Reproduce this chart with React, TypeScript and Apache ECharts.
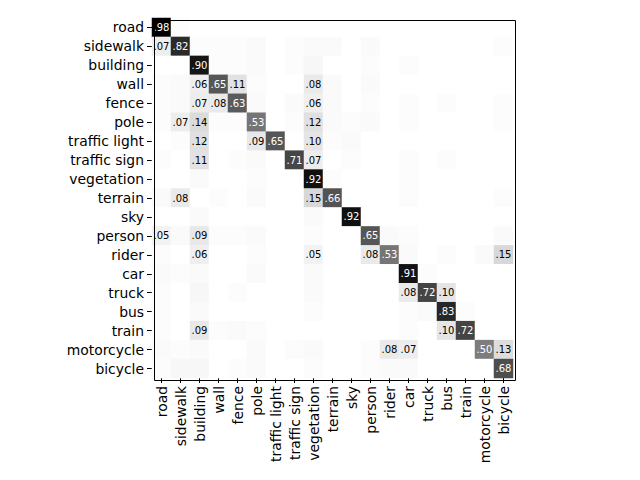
import React, { useEffect, useRef } from "react";
import * as echarts from "echarts";

const categories = [
  "road", "sidewalk", "building", "wall", "fence", "pole", "traffic light",
  "traffic sign", "vegetation", "terrain", "sky", "person", "rider", "car",
  "truck", "bus", "train", "motorcycle", "bicycle",
];

// rows = true class, columns = predicted class
const matrix: number[][] = [
  [0.98, 0.01, 0, 0, 0, 0, 0, 0, 0, 0, 0, 0, 0, 0, 0, 0, 0, 0, 0],
  [0.07, 0.82, 0.01, 0.01, 0.01, 0.02, 0, 0.01, 0.02, 0.02, 0, 0.02, 0, 0, 0, 0, 0, 0, 0.01],
  [0, 0, 0.90, 0.01, 0.01, 0.02, 0, 0.01, 0.03, 0, 0, 0.01, 0, 0.01, 0, 0, 0, 0, 0],
  [0.01, 0.02, 0.06, 0.65, 0.11, 0.01, 0, 0, 0.08, 0.02, 0, 0.02, 0, 0, 0, 0, 0, 0, 0],
  [0.01, 0.02, 0.07, 0.08, 0.63, 0.02, 0, 0.02, 0.06, 0.02, 0, 0.01, 0, 0.01, 0, 0.01, 0, 0, 0.01],
  [0.01, 0.07, 0.14, 0.01, 0.01, 0.53, 0, 0.01, 0.12, 0.02, 0.01, 0.02, 0, 0.01, 0, 0, 0, 0, 0.01],
  [0, 0.01, 0.12, 0, 0, 0.09, 0.65, 0, 0.10, 0.01, 0.02, 0, 0, 0, 0, 0, 0, 0, 0],
  [0.01, 0, 0.11, 0, 0.01, 0.02, 0, 0.71, 0.07, 0, 0.01, 0, 0, 0.01, 0, 0.01, 0, 0, 0],
  [0, 0, 0.02, 0, 0, 0.01, 0, 0, 0.92, 0.01, 0, 0, 0, 0.01, 0, 0, 0, 0, 0],
  [0.02, 0.08, 0, 0.01, 0, 0.02, 0, 0, 0.15, 0.66, 0, 0, 0, 0.01, 0, 0, 0, 0, 0.01],
  [0, 0, 0.02, 0, 0, 0, 0, 0, 0.02, 0, 0.92, 0, 0, 0, 0, 0, 0, 0, 0],
  [0.05, 0.02, 0.09, 0.01, 0.01, 0.02, 0, 0, 0.01, 0, 0, 0.65, 0.02, 0.01, 0, 0, 0, 0, 0.02],
  [0.01, 0, 0.06, 0, 0, 0.01, 0, 0, 0.05, 0, 0, 0.08, 0.53, 0.02, 0, 0.01, 0, 0.02, 0.15],
  [0.02, 0.01, 0.02, 0, 0, 0.02, 0, 0, 0.02, 0, 0, 0, 0, 0.91, 0.01, 0, 0, 0, 0],
  [0.01, 0, 0.03, 0, 0.01, 0, 0, 0, 0.02, 0, 0, 0, 0, 0.08, 0.72, 0.10, 0, 0, 0],
  [0.01, 0, 0.02, 0, 0, 0, 0, 0, 0.01, 0, 0, 0, 0, 0.01, 0.02, 0.83, 0.01, 0, 0],
  [0.01, 0, 0.09, 0.01, 0.02, 0.01, 0, 0, 0, 0, 0, 0, 0, 0.01, 0, 0.10, 0.72, 0, 0],
  [0.02, 0.01, 0.02, 0, 0, 0.02, 0, 0.01, 0.02, 0, 0, 0.01, 0.08, 0.07, 0, 0, 0, 0.50, 0.13],
  [0.01, 0.03, 0.03, 0, 0.01, 0.02, 0, 0, 0.01, 0, 0, 0.01, 0.02, 0.02, 0, 0, 0, 0, 0.68],
];

const FONT = "DejaVu Sans";

export default function App() {
  const ref = useRef<HTMLDivElement>(null);
  useEffect(() => {
    if (!ref.current) return;
    const chart = echarts.init(ref.current, undefined, { renderer: "svg" });
    const data: any[] = [];
    matrix.forEach((row, r) => {
      row.forEach((v, c) => {
        data.push({
          value: [c, r, v],
          label: { color: v > 0.45 ? "#ffffff" : "#000000" },
        });
      });
    });
    const fmt = (v: number) => {
      if (v < 0.05) return "";
      const s = v.toFixed(2);
      return s.startsWith("0") ? s.slice(1) : s;
    };
    chart.setOption({
      animation: false,
      backgroundColor: "#ffffff",
      grid: { left: 152, top: 18, width: 361, height: 360 },
      xAxis: {
        type: "category",
        data: categories,
        position: "bottom",
        axisLine: { show: false },
        axisTick: { show: true, alignWithLabel: true, length: 5, lineStyle: { color: "#000" } },
        axisLabel: {
          rotate: 90,
          interval: 0,
          margin: 8,
          fontFamily: FONT,
          fontSize: 13.9,
          color: "#000",
        },
        splitLine: { show: false },
      },
      yAxis: {
        type: "category",
        data: categories,
        inverse: true,
        axisLine: { show: false },
        axisTick: { show: true, alignWithLabel: true, length: 5, lineStyle: { color: "#000" } },
        axisLabel: {
          interval: 0,
          margin: 8,
          fontFamily: FONT,
          fontSize: 13.9,
          color: "#000",
        },
        splitLine: { show: false },
      },
      visualMap: {
        show: false,
        type: "continuous",
        min: 0,
        max: 0.98,
        dimension: 2,
        inRange: { color: ["#ffffff", "#000000"] },
      },
      series: [
        {
          type: "heatmap",
          data,
          label: {
            show: true,
            fontFamily: FONT,
            fontSize: 10,
            formatter: (p: any) => fmt(p.value[2]),
          },
          itemStyle: { borderWidth: 0 },
          emphasis: { disabled: true },
        },
      ],
      graphic: [
        {
          type: "rect",
          left: 152,
          top: 18,
          shape: { width: 361, height: 360 },
          style: { fill: "none", stroke: "#000", lineWidth: 1 },
          z: 100,
          silent: true,
        },
      ],
    });
    return () => chart.dispose();
  }, []);
  return <div ref={ref} style={{ width: 640, height: 480, position: "absolute", left: 0, top: 0 }} />;
}
